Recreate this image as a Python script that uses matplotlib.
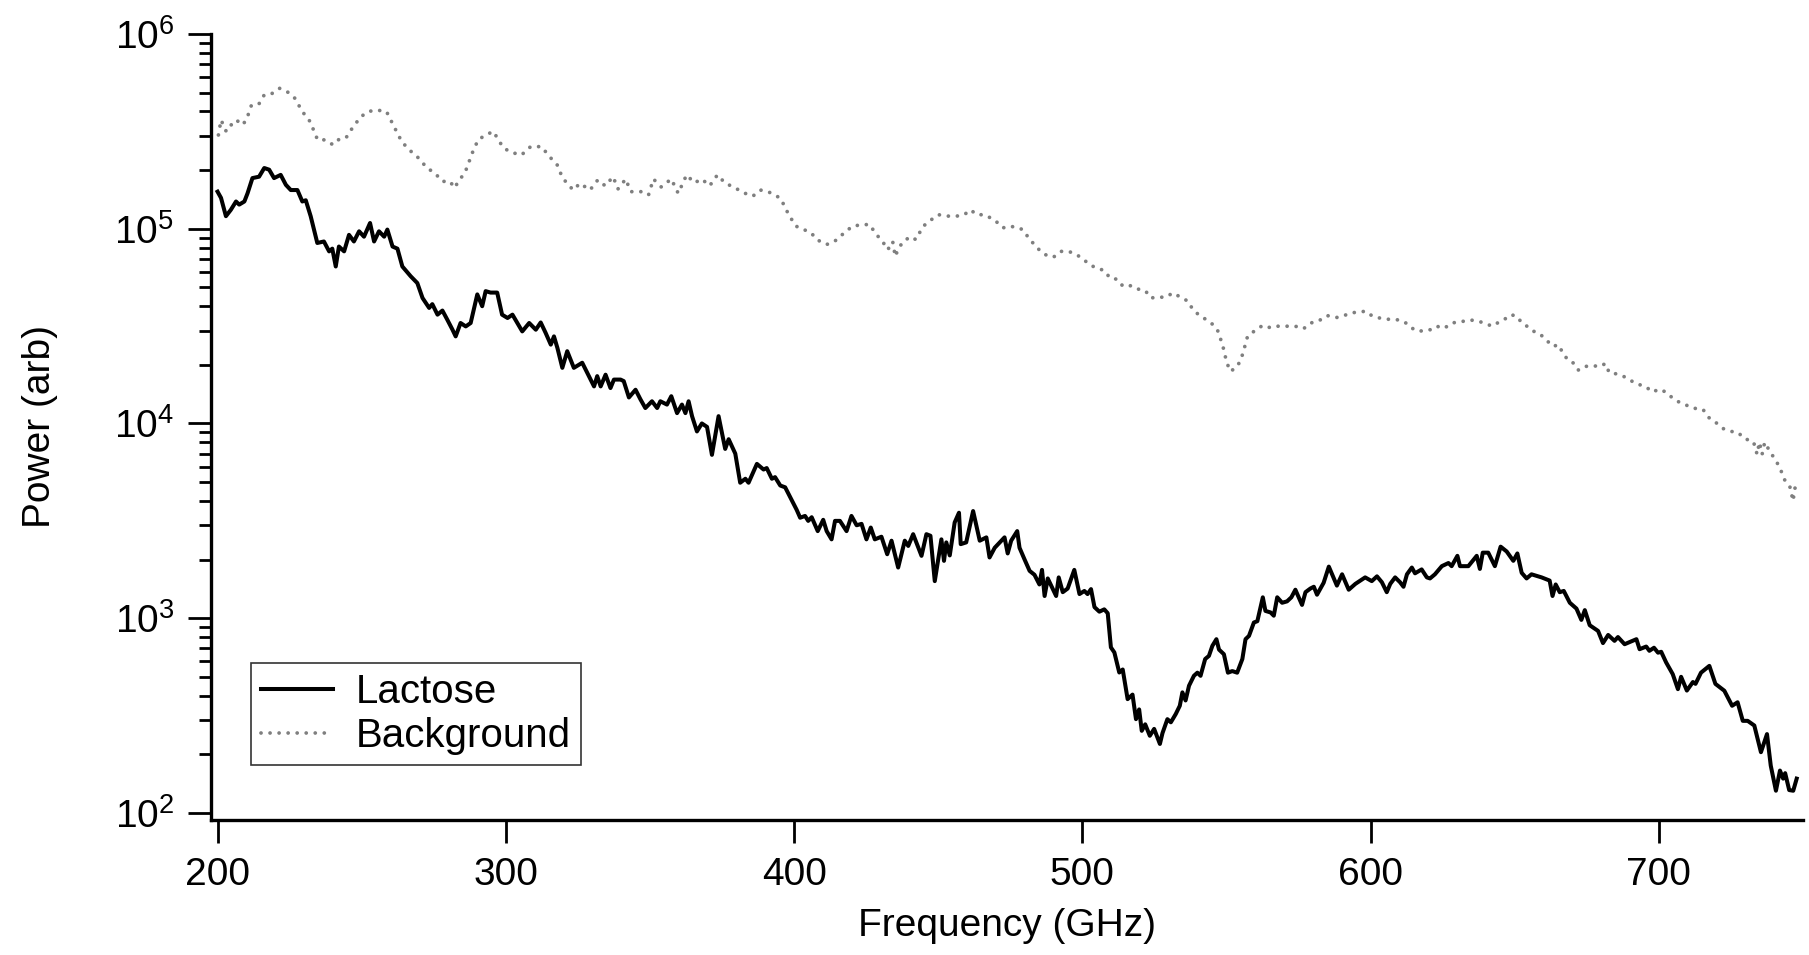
import matplotlib
matplotlib.use('Agg')
import matplotlib.pyplot as plt
from matplotlib.ticker import LogLocator, FixedLocator, NullFormatter

plt.rcParams['font.family'] = ['Liberation Sans', 'DejaVu Sans']
plt.rcParams['mathtext.fontset'] = 'custom'
plt.rcParams['mathtext.rm'] = 'Liberation Sans'
plt.rcParams['mathtext.it'] = 'Liberation Sans'

# Lactose spectrum (GHz, power)
lac_freq = [200, 201.2, 202.9, 204.6, 206.4, 207.5, 209.3, 210.4, 212.1, 214.4, 216.2, 217.9,
            219.6, 221.9, 223.7, 225.4, 227.7, 229.4, 230.6, 232.3, 234.6, 236.9, 238.7, 239.8,
            241.0, 242.1, 243.9, 245.6, 247.3, 249.1, 250.8, 252.9, 254.3, 256.0, 257.8, 258.9,
            260.7, 262.4, 264.1, 267.0, 269.3, 271.1, 273.4, 274.5, 276.3, 278.0, 279.7, 281.5,
            282.6, 284.3, 286.1, 287.8, 290.1, 291.8, 293.0, 294.7, 297.0, 298.7, 300.6, 302.3,
            304.0, 305.7, 308.1, 310.4, 312.1, 313.8, 315.6, 316.7, 317.9, 319.6, 321.3, 323.6,
            326.5, 328.8, 330.6, 331.7, 332.9, 334.6, 336.3, 337.5, 339.8, 340.9, 342.7, 345.0,
            346.7, 348.4, 350.7, 352.5, 353.6, 355.9, 357.4, 359.4, 361.1, 362.3, 363.4, 364.6,
            366.3, 368.0, 369.8, 371.5, 373.8, 376.1, 377.3, 379.6, 381.3, 383.1, 384.2, 387.1,
            389.4, 390.5, 392.3, 393.4, 395.2, 396.9, 398.6, 400.9, 402.1, 403.8, 404.9, 406.1,
            408.2, 410.1, 411.3, 413.0, 414.2, 415.9, 418.2, 419.9, 421.7, 423.4, 425.1, 426.6,
            428.0, 430.3, 432.3, 433.8, 436.1, 438.4, 439.6, 441.3, 444.2, 445.9, 447.3, 448.8,
            451.1, 452.0, 452.8, 454.0, 455.7, 457.2, 457.8, 459.7, 462.1, 464.4, 466.7, 467.8,
            469.6, 473.0, 474.1, 475.3, 477.4, 478.2, 479.9, 481.7, 483.4, 485.1, 486.0, 486.9,
            488.0, 490.9, 491.8, 493.2, 494.9, 497.2, 499.0, 500.7, 501.8, 503.0, 504.2, 505.9,
            507.6, 508.8, 509.9, 511.1, 512.8, 514.0, 515.7, 517.4, 518.6, 519.7, 520.6, 521.8,
            523.4, 524.9, 526.9, 527.8, 529.5, 530.7, 532.4, 533.8, 534.7, 535.8, 537.0, 538.7,
            539.9, 541.0, 542.6, 543.9, 545.1, 546.5, 547.4, 549.1, 550.5, 552.0, 553.7, 555.5,
            556.6, 557.8, 559.5, 560.7, 562.6, 563.5, 565.3, 566.4, 567.6, 569.3, 571.0, 572.5,
            573.9, 576.2, 577.4, 579.1, 580.3, 581.4, 583.7, 585.5, 588.3, 590.1, 592.4, 594.7,
            598.1, 600.4, 602.2, 603.9, 605.6, 606.8, 608.5, 610.2, 611.4, 612.6, 614.3, 615.4,
            617.7, 619.5, 620.6, 622.3, 624.7, 627.0, 628.1, 630.1, 631.0, 633.9, 636.8, 637.9,
            638.9, 640.8, 643.1, 645.1, 647.2, 649.5, 650.9, 652.4, 654.1, 655.8, 659.3, 662.1,
            663.1, 664.2, 665.6, 667.0, 669.1, 671.4, 673.1, 674.3, 676.0, 678.9, 680.6, 682.4,
            684.6, 685.8, 688.1, 692.2, 693.3, 695.6, 696.7, 698.3, 699.7, 700.8, 702.5, 704.8,
            706.6, 707.7, 709.7, 711.8, 712.7, 714.6, 717.5, 719.6, 722.7, 725.4, 727.3, 729.1,
            730.8, 733.1, 735.4, 737.5, 738.8, 740.6, 742.0, 743.1, 743.8, 745.2, 746.6, 747.8]
lac_power = [1.55e5, 1.44e5, 1.16e5, 1.25e5, 1.38e5, 1.33e5, 1.38e5, 1.52e5, 1.82e5, 1.85e5, 2.05e5, 2.01e5,
             1.82e5, 1.89e5, 1.68e5, 1.58e5, 1.58e5, 1.38e5, 1.40e5, 1.16e5, 8.45e4, 8.6e4, 7.65e4, 7.9e4,
             6.4e4, 8.1e4, 7.65e4, 9.3e4, 8.6e4, 9.7e4, 9.1e4, 1.07e5, 8.6e4, 9.7e4, 9.1e4, 9.9e4,
             8.1e4, 7.9e4, 6.4e4, 5.7e4, 5.26e4, 4.41e4, 3.92e4, 4.1e4, 3.62e4, 3.8e4, 3.41e4, 3.03e4,
             2.8e4, 3.28e4, 3.15e4, 3.28e4, 4.6e4, 4.0e4, 4.78e4, 4.7e4, 4.7e4, 3.62e4, 3.48e4, 3.62e4,
             3.28e4, 2.97e4, 3.28e4, 3.03e4, 3.3e4, 2.92e4, 2.54e4, 2.8e4, 2.44e4, 1.93e4, 2.35e4, 1.93e4,
             2.05e4, 1.75e4, 1.55e4, 1.75e4, 1.55e4, 1.78e4, 1.52e4, 1.68e4, 1.68e4, 1.65e4, 1.36e4, 1.49e4,
             1.33e4, 1.20e4, 1.3e4, 1.2e4, 1.3e4, 1.25e4, 1.38e4, 1.13e4, 1.25e4, 1.13e4, 1.30e4, 1.09e4,
             9.1e3, 1.0e4, 9.6e3, 6.9e3, 1.09e4, 7.4e3, 8.3e3, 7.0e3, 4.96e3, 5.2e3, 4.96e3, 6.2e3,
             5.8e3, 5.9e3, 5.2e3, 5.3e3, 4.8e3, 4.7e3, 4.2e3, 3.6e3, 3.28e3, 3.35e3, 3.16e3, 3.3e3,
             2.8e3, 3.2e3, 2.8e3, 2.54e3, 3.16e3, 3.16e3, 2.8e3, 3.35e3, 3.0e3, 3.05e3, 2.54e3, 2.92e3,
             2.54e3, 2.62e3, 2.13e3, 2.5e3, 1.82e3, 2.5e3, 2.35e3, 2.7e3, 2.09e3, 2.7e3, 2.65e3, 1.55e3,
             2.54e3, 1.97e3, 2.45e3, 2.1e3, 3.1e3, 3.48e3, 2.4e3, 2.45e3, 3.55e3, 2.5e3, 2.6e3, 2.05e3,
             2.3e3, 2.6e3, 2.15e3, 2.5e3, 2.8e3, 2.3e3, 2.01e3, 1.75e3, 1.67e3, 1.49e3, 1.77e3, 1.30e3,
             1.6e3, 1.3e3, 1.62e3, 1.36e3, 1.42e3, 1.77e3, 1.33e3, 1.38e3, 1.33e3, 1.41e3, 1.14e3, 1.08e3,
             1.11e3, 1.06e3, 708, 667, 526, 545, 384, 405, 303, 340, 264, 285,
             249, 270, 226, 257, 303, 292, 322, 355, 416, 378, 450, 506,
             525, 506, 617, 640, 721, 780, 690, 653, 525, 535, 525, 617,
             780, 811, 950, 965, 1.28e3, 1.09e3, 1.07e3, 1.03e3, 1.28e3, 1.2e3, 1.22e3, 1.28e3,
             1.40e3, 1.17e3, 1.36e3, 1.42e3, 1.45e3, 1.32e3, 1.52e3, 1.84e3, 1.47e3, 1.68e3, 1.40e3, 1.5e3,
             1.62e3, 1.55e3, 1.64e3, 1.53e3, 1.36e3, 1.5e3, 1.62e3, 1.53e3, 1.45e3, 1.68e3, 1.82e3, 1.7e3,
             1.78e3, 1.62e3, 1.6e3, 1.68e3, 1.85e3, 1.92e3, 1.85e3, 2.09e3, 1.85e3, 1.85e3, 2.09e3, 1.79e3,
             2.17e3, 2.17e3, 1.85e3, 2.33e3, 2.2e3, 1.97e3, 2.15e3, 1.71e3, 1.6e3, 1.68e3, 1.62e3, 1.56e3,
             1.30e3, 1.49e3, 1.36e3, 1.38e3, 1.20e3, 1.12e3, 980, 1.1e3, 920, 860, 745, 820,
             765, 800, 735, 780, 693, 715, 680, 705, 665, 672, 593, 516,
             432, 500, 425, 470, 460, 525, 569, 460, 424, 355, 370, 297,
             297, 281, 205, 254, 175, 130, 165, 150, 160, 131, 130, 150]

# Background spectrum (GHz, power)
bg_freq = [200.3, 201.2, 203.0, 204.7, 206.5, 208.6, 210.0, 211.8, 214.5, 216.2, 218.9, 221.5,
           224.2, 226.8, 229.4, 232.1, 234.7, 237.4, 240.0, 241.8, 244.5, 247.1, 249.8, 252.4,
           255.1, 258.6, 261.2, 263.9, 266.5, 269.2, 272.7, 275.4, 278.0, 280.7, 282.1, 284.2,
           286.0, 288.6, 290.4, 293.0, 295.7, 297.4, 299.2, 301.8, 305.4, 308.6, 312.4, 315.1,
           317.8, 319.5, 321.2, 323.4, 325.7, 329.2, 331.9, 334.5, 337.2, 338.9, 341.6, 343.3,
           346.9, 349.5, 351.2, 353.9, 357.4, 359.8, 362.7, 365.4, 368.0, 370.7, 373.4, 376.0,
           379.5, 383.0, 385.7, 388.3, 391.0, 395.1, 396.8, 398.1, 400.7, 403.4, 406.0, 407.8,
           411.3, 414.0, 416.6, 420.2, 423.7, 426.3, 428.1, 430.7, 432.5, 434.2, 435.1, 436.0,
           437.8, 440.4, 442.2, 444.8, 447.5, 450.1, 453.7, 456.3, 459.0, 461.2, 463.4, 466.0,
           469.5, 472.5, 474.3, 477.0, 479.3, 481.4, 483.6, 485.9, 488.6, 490.3, 492.5, 495.2,
           497.8, 500.7, 502.5, 505.0, 507.6, 509.6, 512.1, 514.1, 517.1, 519.3, 521.9, 523.7,
           526.4, 528.9, 531.4, 534.1, 536.7, 538.2, 540.3, 543.0, 545.3, 547.1, 548.0, 548.9,
           550.1, 551.4, 553.7, 555.0, 555.9, 557.3, 560.0, 562.6, 565.3, 568.0, 570.7, 573.4,
           575.2, 576.9, 579.2, 581.8, 584.9, 588.2, 590.7, 593.5, 595.7, 598.3, 600.7, 603.1,
           606.0, 610.0, 612.6, 615.3, 618.0, 620.7, 622.8, 625.5, 628.2, 632.3, 634.6, 637.3,
           639.4, 642.1, 644.3, 646.6, 648.7, 650.7, 652.5, 654.2, 656.4, 658.5, 660.8, 663.1,
           665.3, 666.5, 668.5, 670.7, 672.1, 674.2, 676.9, 679.6, 681.4, 682.8, 685.0, 687.6,
           690.0, 692.1, 695.3, 697.8, 700.1, 702.4, 703.7, 706.4, 709.1, 711.7, 715.3, 717.4,
           719.8, 722.4, 725.1, 727.4, 729.9, 732.2, 733.5, 734.0, 734.9, 735.8, 736.7, 738.1,
           739.9, 741.7, 742.9, 743.8, 745.6, 746.5, 747.0, 747.4]
bg_power = [3.03e5, 3.62e5, 3.16e5, 3.41e5, 3.62e5, 3.41e5, 3.62e5, 4.33e5, 4.4e5, 4.87e5, 4.95e5, 5.26e5,
            5.05e5, 4.68e5, 4.0e5, 3.55e5, 2.86e5, 2.86e5, 2.7e5, 2.86e5, 2.92e5, 3.35e5, 3.77e5, 4.0e5,
            4.07e5, 4.0e5, 3.35e5, 2.8e5, 2.54e5, 2.35e5, 2.05e5, 1.93e5, 1.75e5, 1.75e5, 1.62e5, 1.8e5,
            1.97e5, 2.5e5, 2.86e5, 3.03e5, 3.16e5, 2.86e5, 2.6e5, 2.47e5, 2.39e5, 2.64e5, 2.64e5, 2.35e5,
            2.13e5, 1.85e5, 1.71e5, 1.58e5, 1.71e5, 1.58e5, 1.78e5, 1.66e5, 1.85e5, 1.6e5, 1.8e5, 1.55e5,
            1.55e5, 1.49e5, 1.8e5, 1.64e5, 1.8e5, 1.52e5, 1.89e5, 1.72e5, 1.8e5, 1.66e5, 1.89e5, 1.72e5,
            1.62e5, 1.52e5, 1.47e5, 1.58e5, 1.55e5, 1.44e5, 1.30e5, 1.18e5, 1.03e5, 9.9e4, 9.5e4, 8.8e4,
            8.3e4, 8.6e4, 9.3e4, 1.03e5, 1.05e5, 1.05e5, 9.5e4, 8.6e4, 7.8e4, 8.6e4, 7.2e4, 7.8e4,
            8.6e4, 9.1e4, 8.8e4, 1.03e5, 1.11e5, 1.18e5, 1.16e5, 1.16e5, 1.18e5, 1.25e5, 1.18e5, 1.18e5,
            1.11e5, 1.01e5, 1.03e5, 1.02e5, 9.9e4, 8.96e4, 8.2e4, 7.56e4, 7.16e4, 7.2e4, 7.65e4, 7.65e4,
            7.4e4, 6.9e4, 6.53e4, 6.28e4, 6.1e4, 5.58e4, 5.5e4, 5.06e4, 5.1e4, 4.9e4, 4.8e4, 4.41e4,
            4.45e4, 4.45e4, 4.68e4, 4.45e4, 4.24e4, 3.87e4, 3.62e4, 3.41e4, 3.22e4, 2.97e4, 2.7e4, 2.44e4,
            2.05e4, 1.85e4, 1.96e4, 2.13e4, 2.35e4, 2.8e4, 3.01e4, 3.19e4, 3.1e4, 3.16e4, 3.16e4, 3.14e4,
            3.16e4, 3.08e4, 3.28e4, 3.35e4, 3.58e4, 3.5e4, 3.58e4, 3.7e4, 3.73e4, 3.77e4, 3.55e4, 3.48e4,
            3.43e4, 3.4e4, 3.26e4, 3.01e4, 2.98e4, 3.03e4, 3.16e4, 3.08e4, 3.28e4, 3.35e4, 3.4e4, 3.35e4,
            3.28e4, 3.16e4, 3.3e4, 3.44e4, 3.62e4, 3.55e4, 3.28e4, 3.16e4, 2.98e4, 2.9e4, 2.7e4, 2.49e4,
            2.53e4, 2.32e4, 2.11e4, 2.03e4, 1.88e4, 1.96e4, 1.98e4, 1.96e4, 2.03e4, 1.82e4, 1.8e4, 1.75e4,
            1.67e4, 1.60e4, 1.55e4, 1.45e4, 1.5e4, 1.45e4, 1.39e4, 1.30e4, 1.25e4, 1.20e4, 1.18e4, 1.07e4,
            1.01e4, 9.4e3, 9.1e3, 9.0e3, 8.3e3, 8.2e3, 7.65e3, 6.94e3, 8.0e3, 6.94e3, 8.0e3, 7.36e3,
            6.67e3, 6.04e3, 5.47e3, 5.06e3, 4.68e3, 4.0e3, 4.42e3, 4.86e3]

x_ticks = [200, 300, 400, 500, 600, 700]

fig = plt.figure(figsize=(18.09, 9.55), dpi=100)
ax = fig.add_axes([0.1166, 0.1414, 0.8801, 0.8230])

ax.plot(lac_freq, lac_power, color='black', lw=2.9, label='Lactose')
ax.plot(bg_freq, bg_power, color='#7f7f7f', lw=2.7, linestyle=(0, (0.01, 2.4)),
        dash_capstyle='round', label='Background')

ax.set_yscale('log')
ax.set_xlim(197.7, 750)
ax.set_ylim(92, 1e6)

for s in ['top', 'right']:
    ax.spines[s].set_visible(False)
for s in ['left', 'bottom']:
    ax.spines[s].set_linewidth(2.4)

ax.xaxis.set_major_locator(FixedLocator(x_ticks))
ax.yaxis.set_major_locator(LogLocator(base=10, numticks=10))
ax.yaxis.set_minor_locator(LogLocator(base=10, subs=range(2, 10), numticks=20))
ax.yaxis.set_minor_formatter(NullFormatter())
ax.tick_params(axis='both', which='major', direction='out', length=16.5, width=2.0,
               labelsize=28, pad=10)
ax.tick_params(axis='y', which='minor', direction='out', length=8.6, width=2.0)
ax.tick_params(axis='x', which='minor', length=0)

ax.set_xlabel('Frequency (GHz)', fontsize=28)
ax.set_ylabel('Power (arb)', fontsize=28)
ax.xaxis.set_label_coords(0.5, -0.112)
ax.yaxis.set_label_coords(-0.096, 0.5)

leg = ax.legend(loc='lower left', bbox_to_anchor=(0.025, 0.07), fontsize=29,
                frameon=True, fancybox=False, handlelength=1.8, handletextpad=0.55,
                borderpad=0.25, labelspacing=0.15, borderaxespad=0)
leg.get_frame().set_edgecolor('black')
leg.get_frame().set_linewidth(1.2)

fig.savefig('out.png', dpi=100)
